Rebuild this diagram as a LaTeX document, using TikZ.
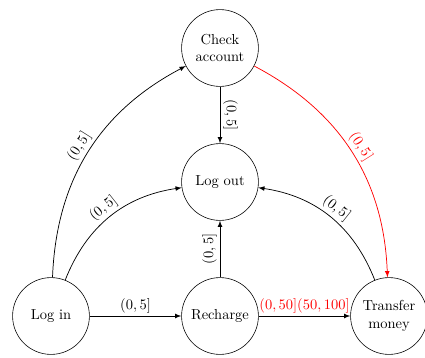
\documentclass[tikz,border=0pt]{standalone}
\usetikzlibrary{arrows}
\begin{document}
\begin{tikzpicture}[x=0.69pt,y=-0.69pt,
  state/.style={draw,circle,minimum size=53pt,inner sep=0pt,align=center},
  trans/.style={-latex,line width=0.5pt},
  lbl/.style={above,sloped,inner sep=2pt}]
\useasboundingbox (0,0) rectangle (425,358);
\node[state] (login)    at (51,316)  {Log in};
\node[state] (recharge) at (220,316) {Recharge};
\node[state] (transfer) at (389,316) {Transfer\\money};
\node[state] (logout)   at (220,182) {Log out};
\node[state] (check)    at (220,48)  {Check\\account};

\draw[trans] (login) to[bend left=30] node[lbl] {$(0,5]$} (check);
\draw[trans] (login) to[bend left=30] node[lbl] {$(0,5]$} (logout);
\draw[trans] (login) -- node[lbl] {$(0,5]$} (recharge);
\draw[trans] (check) -- node[lbl] {$(0,5]$} (logout);
\draw[trans] (recharge) -- node[lbl] {$(0,5]$} (logout);
\draw[trans] (recharge) -- node[lbl,text=red] {$(0,50](50,100]$} (transfer);
\draw[trans] (transfer) to[bend right=30] node[lbl] {$(0,5]$} (logout);
\draw[trans,red] (check) to[bend left=30] node[lbl] {$(0,5]$} (transfer);
\end{tikzpicture}
\end{document}
